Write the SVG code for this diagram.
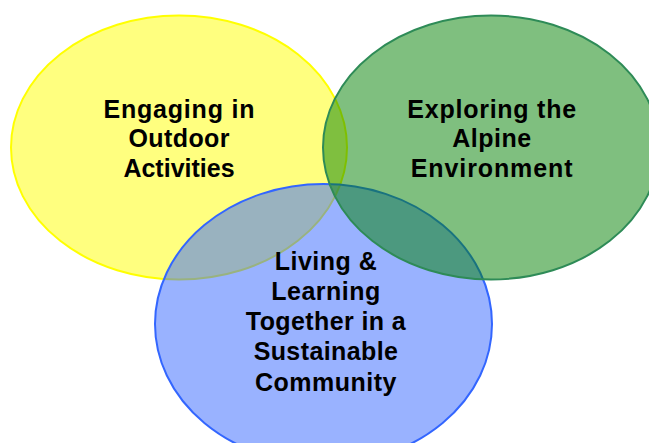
<svg xmlns="http://www.w3.org/2000/svg" width="649" height="443" viewBox="0 0 649 443">
<style>
text{font-family:"Liberation Sans",Arial,sans-serif;font-weight:bold;font-size:25px;fill:#000;text-anchor:middle}
.c{stroke-width:2}
</style>
<rect width="649" height="443" fill="#fff"/>
<g id="outdoor">
<ellipse class="c" cx="179" cy="147.5" rx="168" ry="132" fill="#FFFF00" fill-opacity="0.5" stroke="#FFFF00"/>
<text x="179.4" y="117.5" letter-spacing="0.8">Engaging in</text>
<text x="179.2" y="147" letter-spacing="0.4">Outdoor</text>
<text x="179" y="176.5">Activities</text>
</g>
<g id="community">
<ellipse class="c" cx="323.5" cy="324" rx="168.5" ry="140" fill="#3366FF" fill-opacity="0.5" stroke="#3366FF"/>
<text x="326" y="269.5" letter-spacing="0.5">Living &amp;</text>
<text x="326" y="299.8" letter-spacing="0.5">Learning</text>
<text x="326" y="330" letter-spacing="0.4">Together in a</text>
<text x="326" y="360.3" letter-spacing="0.4">Sustainable</text>
<text x="326" y="390.5" letter-spacing="0.5">Community</text>
</g>
<g id="alpine">
<ellipse class="c" cx="491" cy="147.5" rx="168" ry="132" fill="#008000" fill-opacity="0.5" stroke="#2E8B57"/>
<text x="492.1" y="117.5" letter-spacing="0.75">Exploring the</text>
<text x="492" y="147" letter-spacing="0.5">Alpine</text>
<text x="492.1" y="176.5" letter-spacing="0.9">Environment</text>
</g>
<g id="connectors"/>
</svg>
